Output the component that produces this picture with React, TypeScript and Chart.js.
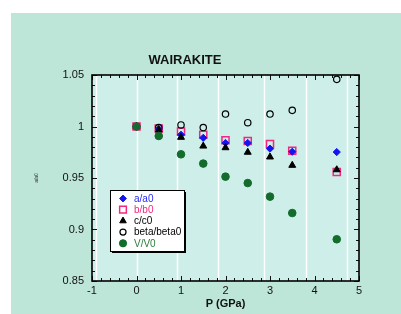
import React, { useEffect, useRef } from "react";
import { Chart, registerables } from "chart.js";
import { drawPoint } from "chart.js/helpers";

Chart.register(...registerables);

const pressure = [0, 0.5, 1, 1.5, 2, 2.5, 3, 3.5, 4.5];
const aRatio = [1.0, 0.9976, 0.992, 0.989, 0.984, 0.984, 0.9785, 0.9755, 0.9752];
const bRatio = [1.0, 0.998, 0.995, 0.992, 0.9866, 0.986, 0.983, 0.9765, 0.9558];
const cRatio = [1.0, 0.9966, 0.9895, 0.981, 0.9794, 0.975, 0.9704, 0.9623, 0.958];
const betaRatio = [1.0, 0.999, 1.0015, 0.999, 1.0121, 1.0037, 1.0121, 1.0157, 1.0458];
const vRatio = [1.0, 0.9908, 0.973, 0.964, 0.9513, 0.9451, 0.9319, 0.916, 0.8905];

const seriesNames = ["a/a0", "b/b0", "c/c0", "beta/beta0", "V/V0"];
const gridLinesAt = [-0.92, 0, 0.92, 1.84, 2.87, 3.8, 4.72];

const FONT = "'Liberation Sans', Arial, sans-serif";

type Style = {
  label: string;
  data: number[];
  pointStyle: string;
  radius: number;
  fill: string;
  stroke: string;
  borderWidth: number;
  text: string;
  order: number;
};

const styles: Style[] = [
  { label: seriesNames[0], data: aRatio, pointStyle: "rectRot", radius: 3.6, fill: "#1414f0", stroke: "#1414f0", borderWidth: 1, text: "#2a2af5", order: 2 },
  { label: seriesNames[1], data: bRatio, pointStyle: "rect", radius: 5, fill: "rgba(0,0,0,0)", stroke: "#f2287f", borderWidth: 1.5, text: "#f2287f", order: 4 },
  { label: seriesNames[2], data: cRatio, pointStyle: "triangle", radius: 4, fill: "#000000", stroke: "#000000", borderWidth: 1, text: "#000000", order: 1 },
  { label: seriesNames[3], data: betaRatio, pointStyle: "circle", radius: 3.2, fill: "rgba(0,0,0,0)", stroke: "#000000", borderWidth: 1.2, text: "#000000", order: 3 },
  { label: seriesNames[4], data: vRatio, pointStyle: "circle", radius: 3.8, fill: "#136b2c", stroke: "#136b2c", borderWidth: 1, text: "#2e7d3a", order: 0 },
];

const framePlugin = {
  id: "frame",
  beforeDatasetsDraw(chart: any) {
    const { ctx, chartArea: a, scales } = chart;
    ctx.save();
    ctx.fillStyle = "#cdeee9";
    ctx.fillRect(a.left, a.top, a.right - a.left, a.bottom - a.top);
    ctx.strokeStyle = "#ffffff";
    ctx.lineWidth = 1.5;
    for (const v of gridLinesAt) {
      const px = Math.round(scales.x.getPixelForValue(v)) + 0.5;
      ctx.beginPath();
      ctx.moveTo(px, a.top);
      ctx.lineTo(px, a.bottom);
      ctx.stroke();
    }
    ctx.restore();
  },
  afterDatasetsDraw(chart: any) {
    const { ctx, chartArea: a, scales } = chart;
    ctx.save();
    ctx.strokeStyle = "#111111";
    ctx.lineWidth = 1;
    for (let i = 0; i <= 20; i++) {
      const v = 0.85 + i * 0.01;
      const py = Math.round(scales.y.getPixelForValue(v)) + 0.5;
      const len = i % 5 === 0 ? 5 : 3;
      ctx.beginPath();
      ctx.moveTo(a.left, py);
      ctx.lineTo(a.left + len, py);
      ctx.moveTo(a.right, py);
      ctx.lineTo(a.right - len, py);
      ctx.stroke();
    }
    for (let i = 0; i <= 30; i++) {
      const v = -1 + i * 0.2;
      const px = Math.round(scales.x.getPixelForValue(v)) + 0.5;
      const len = i % 5 === 0 ? 5 : 3;
      ctx.beginPath();
      ctx.moveTo(px, a.bottom);
      ctx.lineTo(px, a.bottom - len);
      ctx.moveTo(px, a.top);
      ctx.lineTo(px, a.top + len);
      ctx.stroke();
    }
    ctx.lineWidth = 1.6;
    ctx.strokeStyle = "#000000";
    ctx.strokeRect(a.left, a.top, a.right - a.left, a.bottom - a.top);
    ctx.restore();
  },
  afterDraw(chart: any) {
    const { ctx } = chart;
    const bx = 99, by = 177, bw = 74, bh = 61;
    ctx.save();
    ctx.fillStyle = "#000000";
    ctx.fillRect(bx + 2, by + 2, bw, bh);
    ctx.fillStyle = "#ffffff";
    ctx.fillRect(bx, by, bw, bh);
    ctx.strokeStyle = "#000000";
    ctx.lineWidth = 1;
    ctx.strokeRect(bx + 0.5, by + 0.5, bw, bh);
    ctx.font = `10px ${FONT}`;
    ctx.textBaseline = "middle";
    ctx.textAlign = "left";
    styles.forEach((s, i) => {
      const y = by + 8.5 + i * 11.2;
      ctx.fillStyle = s.fill;
      ctx.strokeStyle = s.stroke;
      ctx.lineWidth = s.borderWidth;
      drawPoint(ctx, { pointStyle: s.pointStyle, radius: s.radius * 0.95, rotation: 0, borderWidth: s.borderWidth } as any, 112, y);
      ctx.fillStyle = s.text;
      ctx.fillText(s.label, 123, y + 0.5);
    });
    ctx.restore();
  },
};

export default function App() {
  const ref = useRef<HTMLCanvasElement>(null);
  useEffect(() => {
    if (!ref.current) return;
    const chart = new Chart(ref.current, {
      type: "scatter",
      data: {
        datasets: styles.map((s) => ({
          label: s.label,
          data: pressure.map((p, i) => ({ x: p, y: s.data[i] })),
          pointStyle: s.pointStyle as any,
          pointRadius: s.radius,
          pointBackgroundColor: s.fill,
          pointBorderColor: s.stroke,
          pointBorderWidth: s.borderWidth,
          showLine: false,
          order: s.order,
        })),
      },
      options: {
        animation: false,
        responsive: false,
        layout: { padding: { left: 0, right: 42, top: 0, bottom: 0 } },
        plugins: {
          legend: { display: false },
          tooltip: { enabled: false },
          title: {
            display: true,
            text: "WAIRAKITE",
            color: "#111111",
            font: { family: FONT, size: 13, weight: "bold", lineHeight: 1.2 },
            padding: { top: 39.2, bottom: 7.2 },
          },
        },
        scales: {
          x: {
            type: "linear",
            min: -1,
            max: 5,
            ticks: { stepSize: 1, color: "#111111", font: { family: FONT, size: 11 }, padding: 3 },
            grid: { display: false, drawTicks: false },
            border: { display: false },
            title: {
              display: true,
              text: "P (GPa)",
              color: "#111111",
              font: { family: FONT, size: 11, weight: "bold", lineHeight: 1.2 },
              padding: { top: 0, bottom: 3.4 },
            },
            afterFit: (s: any) => { s.height = 33; },
          },
          y: {
            type: "linear",
            min: 0.85,
            max: 1.05,
            ticks: {
              stepSize: 0.05,
              color: "#111111",
              font: { family: FONT, size: 11 },
              padding: 8,
              callback: (v: any) => String(parseFloat(Number(v).toFixed(2))),
            },
            grid: { display: false, drawTicks: false },
            border: { display: false },
            title: {
              display: true,
              text: "a/a0",
              color: "#333333",
              font: { family: FONT, size: 5, lineHeight: 1.2 },
              padding: { top: 23, bottom: 0 },
            },
            afterFit: (s: any) => { s.width = 81; },
          },
        },
      },
      plugins: [framePlugin],
    });
    return () => chart.destroy();
  }, []);
  return (
    <div style={{ position: "absolute", left: 11, top: 13, width: 390, height: 301, background: "#bde6d9" }}>
      <canvas ref={ref} width={390} height={301} style={{ display: "block" }} />
    </div>
  );
}
